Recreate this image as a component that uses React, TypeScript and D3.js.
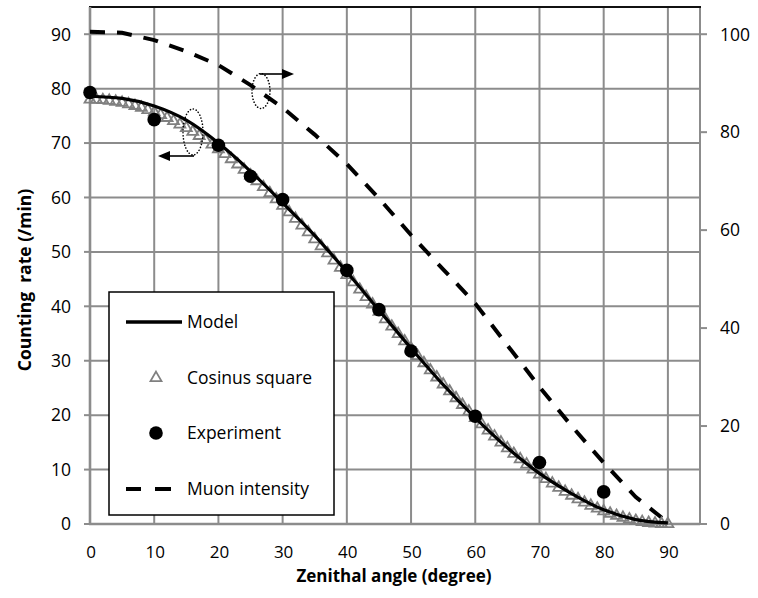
import React from "react";
import * as d3 from "d3";

const xTicks = [0, 10, 20, 30, 40, 50, 60, 70, 80, 90];
const yTicks = [0, 10, 20, 30, 40, 50, 60, 70, 80, 90];
const yRightTicks = [0, 20, 40, 60, 80, 100];

const modelAngles = [0, 5, 10, 15, 20, 25, 30, 35, 40, 45, 50, 55, 60, 65, 70, 75, 80, 85, 90];
const modelValues = [78.6, 78.2, 76.8, 74.2, 70.0, 64.8, 59.0, 53.0, 46.3, 39.3, 32.3, 25.6, 19.5, 14.0, 9.3, 5.6, 2.6, 0.8, 0.2];

const cosAngles = d3.range(0, 91);
const cosValues = [
  78.0, 77.98, 77.9, 77.79, 77.62, 77.41, 77.15, 76.84, 76.49, 76.09,
  75.65, 75.16, 74.63, 74.05, 73.43, 72.78, 72.07, 71.33, 70.55, 69.73,
  68.88, 67.98, 67.05, 66.09, 65.1, 64.07, 63.01, 61.92, 60.81, 59.67,
  58.5, 57.31, 56.1, 54.86, 53.61, 52.34, 51.05, 49.75, 48.43, 47.11,
  45.77, 44.43, 43.08, 41.72, 40.36, 39.0, 37.64, 36.28, 34.92, 33.57,
  32.23, 30.89, 29.57, 28.25, 26.95, 25.66, 24.39, 23.14, 21.9, 20.69,
  19.5, 18.33, 17.19, 16.08, 14.99, 13.93, 12.9, 11.91, 10.95, 10.02,
  9.12, 8.27, 7.45, 6.67, 5.93, 5.22, 4.57, 3.95, 3.37, 2.84,
  2.35, 1.91, 1.51, 1.16, 0.85, 0.59, 0.38, 0.21, 0.1, 0.02, 0.0,
];

const expAngles = [0, 10, 20, 25, 30, 40, 45, 50, 60, 70, 80];
const expValues = [79.3, 74.3, 69.6, 63.9, 59.6, 46.6, 39.4, 31.8, 19.8, 11.3, 5.9];

const muonAngles = [0, 5, 10, 15, 20, 25, 30, 35, 40, 45, 50, 55, 60, 65, 70, 75, 80, 85, 90];
const muonValues = [100.5, 100.3, 98.8, 96.5, 93.7, 89.6, 85.0, 79.5, 73.5, 66.5, 59.0, 52.0, 45.0, 36.5, 28.0, 20.0, 12.5, 5.5, 0.3];

const legendLabels = ["Model", "Cosinus square", "Experiment", "Muon intensity"];

const W = 758;
const H = 598;
const FONT = "'Open Sans', Lato, sans-serif";
const GRID = "#8c8c8c";

export default function App() {
  const x = d3.scaleLinear().domain([0, 95]).range([90, 700]);
  const y = d3.scaleLinear().domain([0, 95]).range([524, 7]);
  const yR = d3.scaleLinear().domain([0, 95 * 100 / 90]).range([524, 7]);

  const modelLine = d3
    .line<number>()
    .x((_, i) => x(modelAngles[i]))
    .y((d) => y(d))
    .curve(d3.curveMonotoneX);
  const muonLine = d3
    .line<number>()
    .x((_, i) => x(muonAngles[i]))
    .y((d) => yR(d));

  const tri = d3.symbol().type(d3.symbolTriangle).size(52)();

  const legX = 109, legY = 292, legW = 225, legH = 223;
  const legRows = [322, 378, 433, 489];

  return (
    <svg width={W} height={H} style={{ position: "absolute", left: 0, top: 0, background: "#fff" }} fontFamily={FONT}>
      <rect width={W} height={H} fill="#fff" />
      {/* grid */}
      {yTicks.slice(1).map((t) => (
        <line key={"gy" + t} x1={x(0)} x2={x(95)} y1={y(t)} y2={y(t)} stroke={GRID} strokeWidth={2} />
      ))}
      {xTicks.slice(1).map((t) => (
        <line key={"gx" + t} x1={x(t)} x2={x(t)} y1={y(95)} y2={y(0)} stroke={GRID} strokeWidth={2} />
      ))}
      {/* right border */}
      <line x1={x(95)} x2={x(95)} y1={y(95)} y2={y(0)} stroke={GRID} strokeWidth={2} />
      {/* top border */}
      <line x1={x(0) - 1} x2={x(95) + 1} y1={y(95)} y2={y(95)} stroke="#111" strokeWidth={2} />
      {/* left axis */}
      <line x1={x(0)} x2={x(0)} y1={y(95)} y2={y(0) + 1} stroke={GRID} strokeWidth={2.6} />
      {yTicks.map((t) => (
        <line key={"ly" + t} x1={x(0) - 6} x2={x(0)} y1={y(t)} y2={y(t)} stroke={GRID} strokeWidth={2} />
      ))}
      {/* bottom axis */}
      <line x1={x(0) - 1} x2={x(95)} y1={y(0)} y2={y(0)} stroke={GRID} strokeWidth={2.6} />
      {/* right ticks */}
      {yRightTicks.map((t) => (
        <line key={"ry" + t} x1={x(95)} x2={x(95) + 7} y1={yR(t)} y2={yR(t)} stroke={GRID} strokeWidth={2} />
      ))}

      {/* tick labels */}
      {yTicks.map((t) => (
        <text key={"lt" + t} x={71} y={y(t)} dy="0.36em" textAnchor="end" fontSize={17.5} fill="#000">
          {t}
        </text>
      ))}
      {yRightTicks.map((t) => (
        <text key={"rt" + t} x={720} y={yR(t)} dy="0.36em" textAnchor="start" fontSize={17.5} fill="#000">
          {t}
        </text>
      ))}
      {xTicks.map((t) => (
        <text key={"xt" + t} x={x(t) + 1} y={558} textAnchor="middle" fontSize={17} fill="#000">
          {t}
        </text>
      ))}

      {/* titles */}
      <text x={394} y={582} textAnchor="middle" fontSize={17} fontWeight="bold" fill="#000">
        Zenithal angle (degree)
      </text>
      <text
        transform={`translate(31, 280) rotate(-90)`}
        textAnchor="middle"
        fontSize={17.5}
        fontWeight="bold"
        fill="#000"
        style={{ whiteSpace: "pre" }}
      >
        {"Counting  rate (/min)"}
      </text>

      {/* muon dashed */}
      <path d={muonLine(muonValues) || ""} fill="none" stroke="#000" strokeWidth={4} strokeDasharray="15 12" />

      {/* cos square triangles */}
      {cosValues.map((v, i) => (
        <path
          key={"c" + i}
          d={tri || ""}
          transform={`translate(${x(cosAngles[i])},${y(v)})`}
          fill="none"
          stroke="#808080"
          strokeWidth={1.8}
        />
      ))}

      {/* model */}
      <path d={modelLine(modelValues) || ""} fill="none" stroke="#000" strokeWidth={3.2} />

      {/* experiment */}
      {expValues.map((v, i) => (
        <circle key={"e" + i} cx={x(expAngles[i])} cy={y(v)} r={6.8} fill="#000" />
      ))}

      {/* annotations */}
      <ellipse cx={193} cy={132} rx={10} ry={23} fill="none" stroke="#000" strokeWidth={1.6} strokeDasharray="0.1 3" strokeLinecap="round" />
      <line x1={194} x2={168} y1={156} y2={156} stroke="#000" strokeWidth={1.6} />
      <path d="M158,156 L170,151 L170,161 Z" fill="#000" />
      <ellipse cx={261} cy={91} rx={9} ry={17.5} fill="none" stroke="#000" strokeWidth={1.6} strokeDasharray="0.1 3" strokeLinecap="round" />
      <line x1={260} x2={284} y1={74} y2={74} stroke="#000" strokeWidth={1.6} />
      <path d="M294,74 L282,69 L282,79 Z" fill="#000" />

      {/* legend */}
      <rect x={legX} y={legY} width={legW} height={legH} fill="#fff" stroke="#000" strokeWidth={1.5} />
      <line x1={126} x2={182} y1={legRows[0]} y2={legRows[0]} stroke="#000" strokeWidth={3.5} />
      <path d={tri || ""} transform={`translate(156,${legRows[1]})`} fill="none" stroke="#808080" strokeWidth={1.8} />
      <circle cx={156} cy={legRows[2]} r={6.8} fill="#000" />
      <line x1={126} x2={141} y1={legRows[3]} y2={legRows[3]} stroke="#000" strokeWidth={4} />
      <line x1={155} x2={171} y1={legRows[3]} y2={legRows[3]} stroke="#000" strokeWidth={4} />
      {legendLabels.map((l, i) => (
        <text key={l} x={187} y={legRows[i]} dy="0.36em" fontSize={17.5} fill="#000">
          {l}
        </text>
      ))}
    </svg>
  );
}
